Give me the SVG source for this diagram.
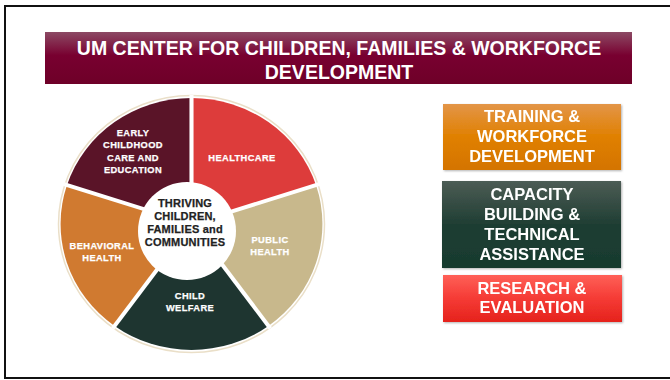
<svg xmlns="http://www.w3.org/2000/svg" width="670" height="380" viewBox="0 0 670 380">
<defs>
<linearGradient id="gTitle" x1="0" y1="0" x2="0" y2="1"><stop offset="0" stop-color="#8c4a64"/><stop offset="0.45" stop-color="#780030"/><stop offset="1" stop-color="#6e0028"/></linearGradient>
<linearGradient id="gOrange" x1="0" y1="0" x2="0" y2="1"><stop offset="0" stop-color="#e39548"/><stop offset="0.5" stop-color="#e08000"/><stop offset="1" stop-color="#d47400"/></linearGradient>
<linearGradient id="gGreen" x1="0" y1="0" x2="0" y2="1"><stop offset="0" stop-color="#4d5c55"/><stop offset="0.5" stop-color="#1f3e33"/><stop offset="1" stop-color="#173a2e"/></linearGradient>
<linearGradient id="gRed" x1="0" y1="0" x2="0" y2="1"><stop offset="0" stop-color="#ff6058"/><stop offset="0.5" stop-color="#f53b35"/><stop offset="1" stop-color="#e5221c"/></linearGradient>
<filter id="sh" x="-5%" y="-5%" width="110%" height="115%"><feDropShadow dx="1" dy="1" stdDeviation="1" flood-color="#000" flood-opacity="0.3"/></filter>
</defs>
<style>
text{font-family:"Liberation Sans",Arial,sans-serif;font-weight:bold;text-anchor:middle}
.t{fill:#fff;font-size:19.5px}
.b{fill:#fff;font-size:16.5px}
.w{fill:#fff;font-size:9.3px;letter-spacing:0.4px;stroke:#fff;stroke-width:0.25}
.c{fill:#222;font-size:11px;letter-spacing:0.2px;stroke:#222;stroke-width:0.25}
.gap{stroke:#fff;stroke-width:4}
</style>
<rect x="5" y="6" width="670" height="372" fill="#fff" stroke="#111" stroke-width="2"/>
<g id="title">
<rect x="45" y="32" width="587" height="52" fill="url(#gTitle)"/>
<text class="t" x="339" y="55">UM CENTER FOR CHILDREN, FAMILIES &amp; WORKFORCE</text>
<text class="t" x="339" y="79">DEVELOPMENT</text>
</g>
<g id="wheel">
<ellipse cx="191.5" cy="224" rx="133" ry="128.5" fill="none" stroke="#eadfc8" stroke-width="1.5"/>
<g transform="translate(191.5,224) scale(1.023,0.984)">
<path id="early" d="M0,0 L0,-128 A128,128 0 0,0 -121.7,-39.6 Z" fill="#5a1428"/>
<path id="healthcare" d="M0,0 L0,-128 A128,128 0 0,1 121.7,-39.6 Z" fill="#dd3c3b"/>
<path id="public" d="M0,0 L121.7,-39.6 A128,128 0 0,1 75.2,103.6 Z" fill="#c8b88c"/>
<path id="child" d="M0,0 L75.2,103.6 A128,128 0 0,1 -75.2,103.6 Z" fill="#1e3530"/>
<path id="behavioral" d="M0,0 L-75.2,103.6 A128,128 0 0,1 -121.7,-39.6 Z" fill="#d07a30"/>
<g class="gap"><line x1="0" y1="0" x2="0" y2="-131"/><line x1="0" y1="0" x2="124.6" y2="-40.5"/><line x1="0" y1="0" x2="77" y2="106"/><line x1="0" y1="0" x2="-77" y2="106"/><line x1="0" y1="0" x2="-124.6" y2="-40.5"/></g>
</g>
<text class="w" x="133" y="136">EARLY</text><text class="w" x="133" y="148">CHILDHOOD</text><text class="w" x="133" y="161">CARE AND</text><text class="w" x="133" y="173">EDUCATION</text>
<text class="w" x="242" y="161">HEALTHCARE</text>
<text class="w" x="270" y="243">PUBLIC</text><text class="w" x="270" y="255">HEALTH</text>
<text class="w" x="190" y="299">CHILD</text><text class="w" x="190" y="311">WELFARE</text>
<text class="w" x="102" y="249">BEHAVIORAL</text><text class="w" x="102" y="261">HEALTH</text>
<g id="center"><circle cx="187" cy="231" r="49" fill="#fff"/>
<text class="c" x="185" y="207">THRIVING</text><text class="c" x="185" y="220">CHILDREN,</text><text class="c" x="185" y="233">FAMILIES and</text><text class="c" x="185" y="246">COMMUNITIES</text></g>
</g>
<g id="training" filter="url(#sh)"><rect x="443" y="104" width="178" height="66" fill="url(#gOrange)"/>
<text class="b" x="532" y="122">TRAINING &amp;</text><text class="b" x="532" y="142">WORKFORCE</text><text class="b" x="532" y="162">DEVELOPMENT</text></g>
<g id="capacity" filter="url(#sh)"><rect x="442" y="181" width="179" height="87" fill="url(#gGreen)"/>
<text class="b" x="532" y="200">CAPACITY</text><text class="b" x="532" y="220">BUILDING &amp;</text><text class="b" x="532" y="240">TECHNICAL</text><text class="b" x="532" y="260">ASSISTANCE</text></g>
<g id="research" filter="url(#sh)"><rect x="443" y="275" width="179" height="47" fill="url(#gRed)"/>
<text class="b" x="532" y="294">RESEARCH &amp;</text><text class="b" x="532" y="313">EVALUATION</text></g>
</svg>
